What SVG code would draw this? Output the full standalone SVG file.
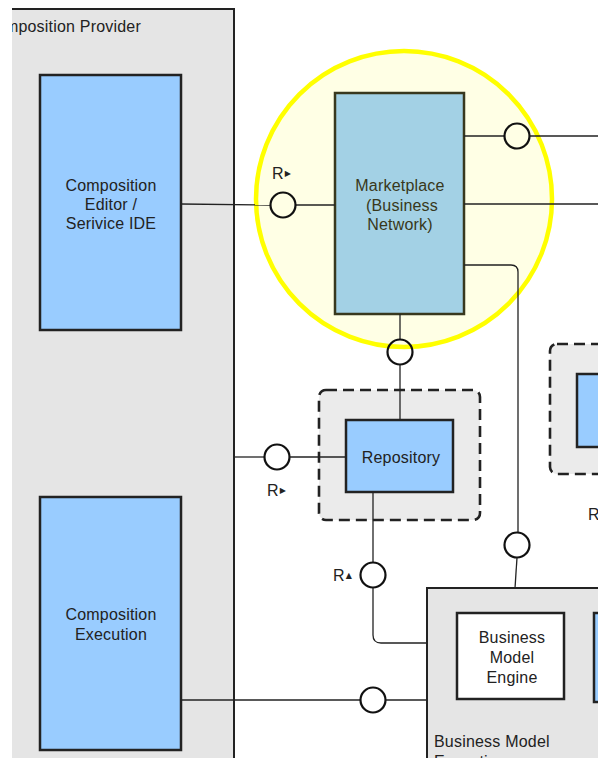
<svg xmlns="http://www.w3.org/2000/svg" width="598" height="758" viewBox="0 0 598 758">
  <defs>
    <style>
      .lbl { font-family: "Liberation Sans", Arial, sans-serif; font-size: 16px; fill: #222; letter-spacing: 0.2px; }
      .mid { text-anchor: middle; }
      .comp { fill: #99CCFF; stroke: #222; stroke-width: 2.5; }
      .plain { fill: #FFFFFF; stroke: #222; stroke-width: 2.5; }
      .group { fill: #E5E5E5; stroke: #222; stroke-width: 2; }
      .dashgrp { fill: #EBEBEB; stroke: #222; stroke-width: 2.6; stroke-dasharray: 11 6; }
      .wire { fill: none; stroke: #222; stroke-width: 1.3; }
      .port { fill: none; stroke: #111; stroke-width: 2.2; }
      .tri { font-family: "DejaVu Sans", sans-serif; font-size: 8px; }
    </style>
    <clipPath id="provClip">
      <rect x="12" y="0" width="230" height="758"/>
    </clipPath>
  </defs>

  <rect x="0" y="0" width="598" height="758" fill="#FFFFFF"/>

  <!-- Composition Provider container -->
  <g id="composition-provider">
    <rect x="12" y="9" width="222" height="760" fill="#E5E5E5"/>
    <path d="M12,9 H234 V760" fill="none" stroke="#222" stroke-width="2"/>
    <text class="lbl" x="141" y="32" text-anchor="end" clip-path="url(#provClip)">Composition Provider</text>
  </g>

  <g id="composition-editor">
    <rect class="comp" x="40" y="75" width="141" height="255"/>
    <text class="lbl mid" x="111" y="191">Composition</text>
    <text class="lbl mid" x="111" y="210">Editor /</text>
    <text class="lbl mid" x="111" y="229">Serivice IDE</text>
  </g>

  <g id="composition-execution">
    <rect class="comp" x="40" y="497" width="141" height="253"/>
    <text class="lbl mid" x="111" y="620">Composition</text>
    <text class="lbl mid" x="111" y="640">Execution</text>
  </g>

  <g id="marketplace">
    <rect class="comp" x="335" y="93" width="129" height="221"/>
    <text class="lbl mid" x="400" y="191">Marketplace</text>
    <text class="lbl mid" x="402" y="211">(Business</text>
    <text class="lbl mid" x="400" y="230">Network)</text>
  </g>

  <g id="repository-group">
    <rect class="dashgrp" x="319" y="390" width="161" height="130" rx="7"/>
  </g>
  <g id="repository">
    <rect class="comp" x="346" y="420" width="107" height="72"/>
    <text class="lbl mid" x="401" y="463">Repository</text>
  </g>

  <g id="right-group">
    <rect class="dashgrp" x="550" y="344" width="70" height="130" rx="7"/>
    <rect class="comp" x="577" y="374" width="40" height="73"/>
  </g>

  <g id="business-model-execution">
    <rect class="group" x="427" y="588" width="200" height="200"/>
    <text class="lbl" x="434" y="747">Business Model</text>
    <text class="lbl" x="434" y="767">Execution</text>
  </g>
  <g id="business-model-engine">
    <rect class="plain" x="457" y="613" width="107" height="86"/>
    <text class="lbl mid" x="512" y="643">Business</text>
    <text class="lbl mid" x="512" y="663">Model</text>
    <text class="lbl mid" x="512" y="683">Engine</text>
  </g>
  <g id="bme-right-component">
    <rect class="comp" x="594" y="613" width="30" height="89"/>
  </g>

  <!-- highlight around the marketplace -->
  <g id="highlight">
    <circle cx="404" cy="199" r="148" fill="#FFFF00" fill-opacity="0.1" stroke="#FFFF00" stroke-width="4.5"/>
  </g>

  <!-- connectors and ports -->
  <g id="connectors">
    <path class="wire" d="M181,204 L270.5,205"/>
    <path class="wire" d="M295.5,205 H335"/>
    <circle class="port" cx="283" cy="205" r="12.5"/>

    <path class="wire" d="M464,136 H504.5"/>
    <circle class="port" cx="517" cy="136" r="12.5"/>
    <path class="wire" d="M529.5,136 H598"/>

    <path class="wire" d="M464,204 H598"/>

    <path class="wire" d="M464,265 H511 Q518,265 518,272 V532.5"/>
    <circle class="port" cx="517" cy="545" r="12.5"/>
    <path class="wire" d="M517,557.5 L515,588"/>

    <path class="wire" d="M400,314 V339.5"/>
    <circle class="port" cx="400" cy="352" r="12.5"/>
    <path class="wire" d="M400,364.5 V420"/>

    <path class="wire" d="M234,457 H264.5"/>
    <circle class="port" cx="277" cy="457" r="12.5"/>
    <path class="wire" d="M289.5,457 H346"/>

    <path class="wire" d="M373,492 V562.5"/>
    <circle class="port" cx="373" cy="575" r="12.5"/>
    <path class="wire" d="M373,587.5 V635 Q373,643 381,643 H427"/>

    <path class="wire" d="M181,700 H360.5"/>
    <circle class="port" cx="373" cy="700" r="12.5"/>
    <path class="wire" d="M385.5,700 H427"/>

    <text class="lbl" x="272" y="179" font-size="15">R<tspan class="tri" dx="1" dy="-3">▶</tspan></text>
    <text class="lbl" x="267" y="496" font-size="15">R<tspan class="tri" dx="1" dy="-3">▶</tspan></text>
    <text class="lbl" x="333" y="581" font-size="15">R<tspan class="tri" dx="1" dy="-3">▲</tspan></text>
    <text class="lbl" x="588" y="520" font-size="15">R</text>
  </g>
</svg>
